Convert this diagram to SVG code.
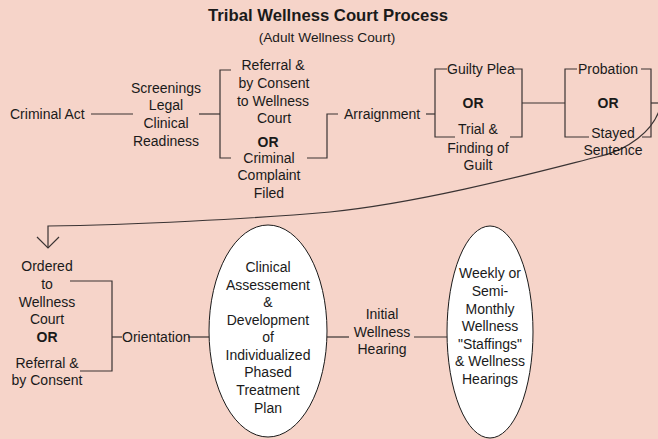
<svg xmlns="http://www.w3.org/2000/svg" width="658" height="439" viewBox="0 0 658 439">
<defs>
<style>
.t{font-family:"Liberation Sans",Arial,sans-serif;font-size:14px;fill:#1a1a1a;text-anchor:middle}
.s{text-anchor:start}
.b{font-weight:bold}
.ln{fill:none;stroke:#3a3333;stroke-width:1.2}
.el{fill:#ffffff;stroke:#1a1a1a;stroke-width:1}
</style>
</defs>
<rect width="658" height="439" fill="#f6d4c9"/>
<g id="title">
<text class="t b" x="328" y="21" style="font-size:16.7px">Tribal Wellness Court Process</text>
<text class="t" x="327" y="42" style="font-size:13.7px">(Adult Wellness Court)</text>
</g>
<g id="connectors">
<path class="ln" d="M91,114 H133"/>
<path class="ln" d="M199,114 H220"/>
<path class="ln" d="M231,70 H220 V158 H231"/>
<path class="ln" d="M307,158 H327 V114 H338"/>
<path class="ln" d="M426,114 H435"/>
<path class="ln" d="M447,69 H435 V137 H455"/>
<path class="ln" d="M513,69 H522 V137 H510"/>
<path class="ln" d="M522,103 H565"/>
<path class="ln" d="M577,69 H565 V137 H589"/>
<path class="ln" d="M641,69 H651 V137 H642"/>
<path class="ln" d="M651,103 H658"/>
<path class="ln" d="M659,111 C652,130 630,150 597,157 C560,166 430,202 330,212 C250,219 130,225 48,226 V248"/>
<path class="ln" d="M37,237 L48,248 L59,237"/>
<path class="ln" d="M70,281 H112 V371 H80"/>
<path class="ln" d="M112,337 H122"/>
<path class="ln" d="M188,337 H209"/>
<path class="ln" d="M327,337 H349"/>
<path class="ln" d="M414,337 H447"/>
</g>
<g id="criminal-act">
<text class="t s" x="10" y="119">Criminal Act</text>
</g>
<g id="screenings">
<text class="t" x="166" y="93">Screenings</text>
<text class="t" x="166" y="110">Legal</text>
<text class="t" x="166" y="128">Clinical</text>
<text class="t" x="166" y="146">Readiness</text>
</g>
<g id="referral">
<text class="t" x="273" y="70">Referral &amp;</text>
<text class="t" x="274" y="88">by Consent</text>
<text class="t" x="273" y="106">to Wellness</text>
<text class="t" x="274" y="123">Court</text>
<text class="t b" x="268" y="147">OR</text>
<text class="t" x="269" y="163">Criminal</text>
<text class="t" x="269" y="180">Complaint</text>
<text class="t" x="269" y="198">Filed</text>
</g>
<g id="arraignment">
<text class="t s" x="344" y="119">Arraignment</text>
</g>
<g id="plea">
<text class="t s" x="447" y="74">Guilty Plea</text>
<text class="t b" x="473" y="108">OR</text>
<text class="t" x="478" y="134">Trial &amp;</text>
<text class="t" x="478" y="153">Finding of</text>
<text class="t" x="478" y="170">Guilt</text>
</g>
<g id="probation">
<text class="t" x="608" y="74">Probation</text>
<text class="t b" x="608" y="108">OR</text>
<text class="t" x="613" y="138">Stayed</text>
<text class="t" x="613" y="155">Sentence</text>
</g>
<g id="ordered">
<text class="t" x="47" y="271">Ordered</text>
<text class="t" x="47" y="289">to</text>
<text class="t" x="47" y="307">Wellness</text>
<text class="t" x="47" y="324">Court</text>
<text class="t b" x="47" y="342">OR</text>
<text class="t" x="47" y="368">Referral &amp;</text>
<text class="t" x="47" y="385">by Consent</text>
</g>
<g id="orientation">
<text class="t s" x="122" y="342">Orientation</text>
</g>
<g id="assessment">
<ellipse class="el" cx="268" cy="331" rx="59" ry="106"/>
<text class="t" x="268" y="272">Clinical</text>
<text class="t" x="268" y="290">Assessement</text>
<text class="t" x="268" y="307">&amp;</text>
<text class="t" x="268" y="325">Development</text>
<text class="t" x="268" y="342">of</text>
<text class="t" x="268" y="360">Individualized</text>
<text class="t" x="268" y="377">Phased</text>
<text class="t" x="268" y="395">Treatment</text>
<text class="t" x="268" y="413">Plan</text>
</g>
<g id="initial-hearing">
<text class="t" x="382" y="319">Initial</text>
<text class="t" x="382" y="337">Wellness</text>
<text class="t" x="382" y="354">Hearing</text>
</g>
<g id="staffings">
<ellipse class="el" cx="490" cy="332" rx="43" ry="106"/>
<text class="t" x="490" y="278">Weekly or</text>
<text class="t" x="490" y="296">Semi-</text>
<text class="t" x="490" y="314">Monthly</text>
<text class="t" x="490" y="331">Wellness</text>
<text class="t" x="490" y="349">"Staffings"</text>
<text class="t" x="490" y="366">&amp; Wellness</text>
<text class="t" x="490" y="384">Hearings</text>
</g>
</svg>
